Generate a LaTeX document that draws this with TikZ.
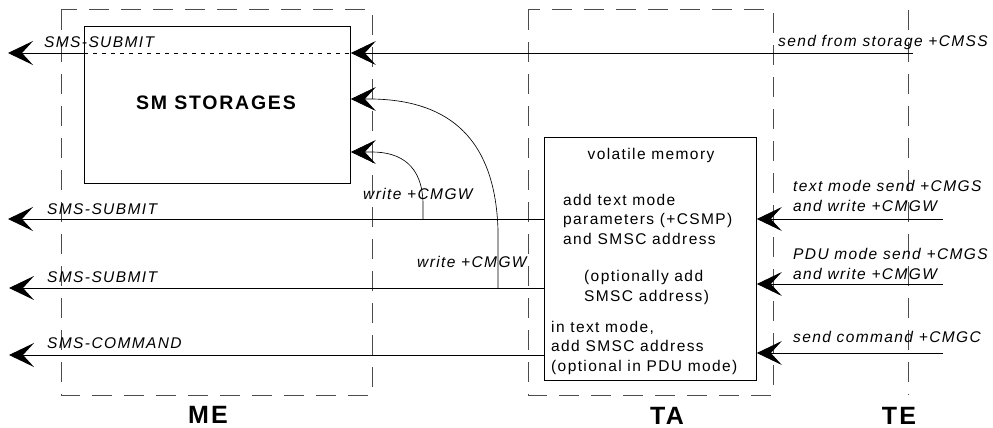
\documentclass[tikz,border=0pt]{standalone}
\usepackage{fontspec}
\setmainfont{Liberation Sans}
\newfontfamily\lblfont[LetterSpace=9]{Liberation Sans}
\usetikzlibrary{arrows.meta}
\begin{document}
\begin{tikzpicture}[x=1pt,y=-1pt,
  zone/.style={draw=black!70, line width=1pt, dash pattern=on 20pt off 12pt},
  flow/.style={draw, line width=0.85pt, -{Stealth[length=25pt,width=24pt,inset=11pt]}},
  curveflow/.style={flow, line width=0.65pt},
  storepath/.style={draw, line width=0.85pt, dash pattern=on 4pt off 5pt},
  box/.style={draw, line width=0.85pt, inner sep=0pt, anchor=north west},
  lbl/.style={font=\lblfont\fontsize{15.5}{20}\selectfont\itshape, inner sep=0pt, anchor=base west, align=left},
  boxtxt/.style={font=\lblfont\fontsize{15.5}{19.3}\selectfont, inner sep=0pt, anchor=base west, align=left},
  zonelbl/.style={font=\lblfont\fontsize{25}{30}\selectfont\bfseries, inner sep=0pt, anchor=base}
]
\useasboundingbox (0,0) rectangle (993,428);

% zones
\draw[zone] (61,10) rectangle (372,395);
\draw[zone] (528,10) rectangle (773,395);
\draw[zone] (908,10) -- (908,395);

% boxes
\node[box, minimum width=266pt, minimum height=157pt] (sm) at (84,26) {};
\node[font=\lblfont\fontsize{19.5}{23}\selectfont\bfseries, inner sep=0pt, anchor=base] (smlbl) at (216,109) {SM STORAGES};
\node[box, minimum width=212pt, minimum height=243pt] (vm) at (544,137) {};

% texts in volatile memory (base = last line)
\node[boxtxt, anchor=base] (vmt) at (651,159) {volatile memory};
\node[boxtxt] (vm1) at (563,244) {add text mode\\parameters (+CSMP)\\and SMSC address};
\node[boxtxt] (vm2) at (584,301) {(optionally add\\SMSC address)};
\node[boxtxt] (vm3) at (551,371) {in text mode,\\add SMSC address\\(optional in PDU mode)};

% coordinates for free ends
\coordinate (cmssR) at (913,53);
\coordinate (smoutL) at (8,53);
\coordinate (in1) at (943,219);
\coordinate (in2) at (943,284);
\coordinate (in3) at (943,353);
\coordinate (out1) at (8,219);
\coordinate (out2) at (9,288);
\coordinate (out3) at (9,355);
\coordinate (wa) at (423,219);
\coordinate (wb) at (498,288);

% send from storage
\draw[flow] (cmssR) -- (sm.east |- cmssR);
\draw[storepath] (sm.west |- cmssR) -- (sm.east |- cmssR);
\draw[flow] (sm.west |- cmssR) -- (smoutL);

% TE -> TA
\draw[flow] (in1) -- (vm.east |- in1);
\draw[flow] (in2) -- (vm.east |- in2);
\draw[flow] (in3) -- (vm.east |- in3);

% TA -> ME
\draw[flow] (vm.west |- out1) -- (out1);
\draw[flow] (vm.west |- out2) -- (out2);
\draw[flow] (vm.west |- out3) -- (out3);

% write to storage
\draw[curveflow] (wa) -- (423,205) .. controls (423,165) and (400,152) .. (372,152) -- (sm.east |- 0,152);
\draw[curveflow] (wb) -- (498,230) .. controls (495,130) and (440,100) .. (372,99) -- (sm.east |- 0,99);

% labels (base = last line)
\node[lbl] (l1) at (44,48) {SMS-SUBMIT};
\node[lbl] (l2) at (47,214) {SMS-SUBMIT};
\node[lbl] (l3) at (47,282) {SMS-SUBMIT};
\node[lbl] (l4) at (47,348) {SMS-COMMAND};
\node[lbl] (r0) at (778,47) {send from storage +CMSS};
\node[lbl] (r1) at (793,211) {text mode send +CMGS\\and write +CMGW};
\node[lbl] (r2) at (793,279) {PDU mode send +CMGS\\and write +CMGW};
\node[lbl] (r3) at (793,342) {send command +CMGC};
\node[lbl] (w1) at (363,199) {write +CMGW};
\node[lbl] (w2) at (417,267) {write +CMGW};

% zone labels
\node[zonelbl] (me) at (208,423) {ME};
\node[zonelbl] (ta) at (667,424) {TA};
\node[zonelbl] (te) at (899,424) {TE};
\end{tikzpicture}
\end{document}
